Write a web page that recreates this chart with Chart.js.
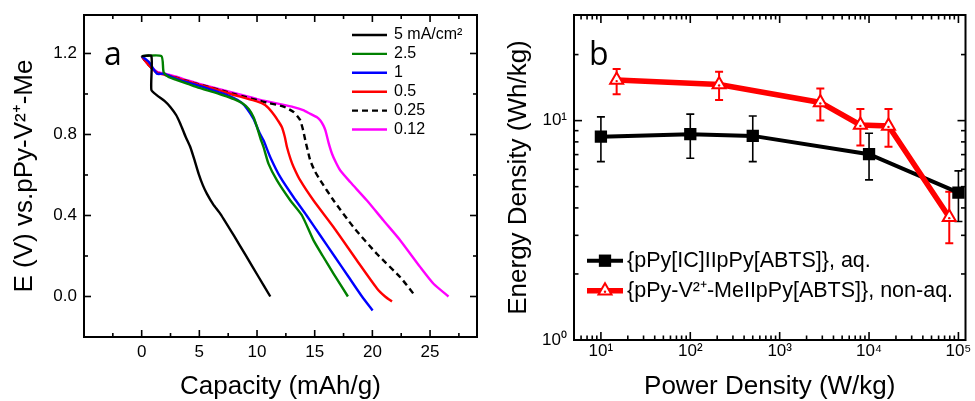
<!DOCTYPE html>
<html>
<head>
<meta charset="utf-8">
<script src="https://cdn.jsdelivr.net/npm/chart.js@4.4.1/dist/chart.umd.min.js"></script>
<style>
  body { margin: 0; background: #fff; }
  #wrap { position: relative; width: 975px; height: 401px; }
  canvas { position: absolute; top: 0; }
  #chartA { left: 0; }
  #chartB { left: 490px; }
</style>
</head>
<body>
<div id="wrap">
  <canvas id="chartA" width="490" height="401"></canvas>
  <canvas id="chartB" width="485" height="401"></canvas>
</div>
<script>
// ---- panel a: discharge curves ----
const rateLabels = ['5 mA/cm²', '2.5', '1', '0.5', '0.25', '0.12'];
const rateColors = ['#000000', '#008000', '#0000ff', '#ff0000', '#000000', '#ff00ff'];

const cap5 = [0, 0.84, 0.84, 1.33, 2.0, 2.5, 3.0, 3.35, 3.8, 4.22, 4.6, 4.94, 5.3, 5.66, 6.2, 6.82, 8.0, 9.0, 10.1, 11.15];
const volt5 = [1.187, 1.187, 1.02, 0.993, 0.965, 0.935, 0.895, 0.853, 0.79, 0.737, 0.67, 0.606, 0.55, 0.507, 0.455, 0.408, 0.3, 0.205, 0.1, 0.0];

const cap25 = [0, 1.71, 1.9, 2.3, 3, 4, 5, 6, 7, 8, 8.7, 9.3, 9.7, 10, 10.3, 10.57, 11.0, 11.73, 12.89, 13.9, 14.9, 15.7, 16.64, 17.88];
const volt25 = [1.187, 1.187, 1.108, 1.085, 1.07, 1.05, 1.03, 1.013, 0.995, 0.975, 0.955, 0.925, 0.885, 0.836, 0.78, 0.737, 0.655, 0.573, 0.474, 0.4, 0.277, 0.2, 0.112, 0.0];

const cap1 = [0, 0.6, 1.33, 1.9, 3, 4, 5, 6, 7, 8, 8.6, 9.1, 9.7, 10.2, 10.57, 11.15, 12.02, 13.17, 14.3, 15.5, 16.7, 17.9, 19.1, 20.02];
const volt1 = [1.187, 1.16, 1.1, 1.1, 1.075, 1.057, 1.04, 1.022, 1.003, 0.98, 0.96, 0.93, 0.877, 0.81, 0.77, 0.688, 0.589, 0.49, 0.4, 0.3, 0.2, 0.1, 0.0, -0.069];

const cap05 = [0, 0.5, 1.33, 2, 3, 4, 5, 6, 7, 8, 9, 10, 10.7, 11.15, 11.5, 11.8, 12.16, 12.4, 12.6, 12.9, 13.17, 13.75, 14.9, 16.64, 18.66, 20.4, 21.1, 21.7];
const volt05 = [1.187, 1.15, 1.105, 1.095, 1.08, 1.062, 1.045, 1.03, 1.013, 0.995, 0.98, 0.963, 0.945, 0.92, 0.895, 0.87, 0.836, 0.79, 0.737, 0.68, 0.64, 0.573, 0.474, 0.342, 0.178, 0.04, 0.0, -0.025];

const cap025 = [0, 0.5, 1.33, 2, 3, 4, 5, 6, 7, 8, 9, 10, 11, 12.3, 13.17, 13.5, 13.75, 14.0, 14.19, 14.4, 14.62, 15.0, 15.49, 16.64, 18.37, 20.4, 22.42, 23.57];
const volt025 = [1.187, 1.15, 1.105, 1.095, 1.08, 1.063, 1.047, 1.032, 1.016, 1.0, 0.985, 0.97, 0.955, 0.938, 0.911, 0.89, 0.87, 0.82, 0.77, 0.72, 0.671, 0.62, 0.573, 0.474, 0.342, 0.21, 0.095, 0.013];

const cap012 = [0, 0.5, 1.33, 2, 3, 4, 5, 6, 7, 8, 9, 10, 11, 12, 13.17, 14.0, 14.62, 15.2, 15.49, 15.75, 15.93, 16.2, 16.5, 16.85, 17.22, 18.08, 19.53, 20.97, 22.42, 24.15, 25.3, 26.6];
const volt012 = [1.187, 1.15, 1.11, 1.1, 1.085, 1.067, 1.05, 1.035, 1.02, 1.005, 0.99, 0.975, 0.962, 0.95, 0.935, 0.92, 0.902, 0.885, 0.869, 0.845, 0.82, 0.76, 0.705, 0.66, 0.622, 0.565, 0.474, 0.375, 0.277, 0.145, 0.063, 0.0];

const capTicks = [0, 5, 10, 15, 20, 25];
const capMinor = [-2.5, 2.5, 7.5, 12.5, 17.5, 22.5, 27.5];
const voltTicks = [0, 0.4, 0.8, 1.2];
const voltMinor = [0.2, 0.6, 1.0];

// ---- panel b: Ragone plot ----
const aqLabel = '{pPy[IC]IIpPy[ABTS]}, aq.';
const aqPower = [10, 100, 500, 10000, 100000];
const aqEnergy = [8.45, 8.67, 8.52, 7.03, 4.7];
const aqErrLow = [6.5, 6.74, 6.5, 5.37, 3.47];
const aqErrHigh = [10.4, 10.7, 10.5, 8.76, 5.9];

const naqLabel = '{pPy-V²⁺-MeIIpPy[ABTS]}, non-aq.';
const naqPower = [15, 210, 2850, 8000, 16500, 79000];
const naqEnergy = [15.3, 14.6, 12.1, 9.56, 9.46, 3.63];
const naqErrLow = [13.2, 12.4, 10.0, 7.7, 7.6, 2.76];
const naqErrHigh = [17.2, 16.7, 14.0, 11.3, 11.3, 4.74];

const powerTicks = [10, 100, 1000, 10000, 100000];
const powerTickLabels = ['10¹', '10²', '10³', '10⁴', '10⁵'];
const energyTicks = [1, 10];
const energyTickLabels = ['10⁰', '10¹'];

Chart.defaults.font.family = "'Liberation Sans', Arial, sans-serif";
Chart.defaults.color = '#000';

function logMinors(lo, hi) {
  const out = [];
  for (let d = 1; d <= hi; d *= 10) {
    for (let k = 2; k <= 9; k++) {
      const v = k * d;
      if (v > lo && v < hi) out.push(v);
    }
  }
  return out;
}

// box round the plot, ticks pointing in on all four sides
const frameTicks = {
  id: 'frameTicks',
  afterDraw(chart, args, o) {
    const { ctx, chartArea: a } = chart;
    const sx = chart.scales.x, sy = chart.scales.y;
    ctx.save();
    ctx.strokeStyle = '#000';
    ctx.lineWidth = 1.6;
    const seg = (x1, y1, x2, y2) => { ctx.beginPath(); ctx.moveTo(x1, y1); ctx.lineTo(x2, y2); ctx.stroke(); };
    const doX = (vals, len) => vals.forEach(v => {
      const p = sx.getPixelForValue(v);
      if (p < a.left + 1 || p > a.right - 1) return;
      seg(p, a.bottom, p, a.bottom - len);
      seg(p, a.top, p, a.top + len);
    });
    const doY = (vals, len) => vals.forEach(v => {
      const p = sy.getPixelForValue(v);
      if (p < a.top + 1 || p > a.bottom - 1) return;
      seg(a.left, p, a.left + len, p);
      seg(a.right, p, a.right - len, p);
    });
    doX(sx.ticks.map(t => t.value), o.major);
    doX(o.xMinor, o.minor);
    doY(sy.ticks.map(t => t.value), o.major);
    doY(o.yMinor, o.minor);
    ctx.lineWidth = 2;
    ctx.strokeRect(a.left, a.top, a.right - a.left, a.bottom - a.top);
    ctx.restore();
  }
};

const panelTag = {
  id: 'panelTag',
  afterDraw(chart, args, o) {
    const ctx = chart.ctx;
    ctx.save();
    ctx.font = '32px "Open Sans"';
    ctx.fillStyle = '#000';
    ctx.textBaseline = 'alphabetic';
    ctx.fillText(o.text, o.x, o.y);
    ctx.restore();
  }
};

const lineLegend = {
  id: 'lineLegend',
  afterDraw(chart, args, o) {
    const ctx = chart.ctx;
    ctx.save();
    ctx.font = o.font;
    ctx.textBaseline = 'middle';
    chart.data.datasets.forEach((ds, i) => {
      const y = o.y + i * o.gap;
      ctx.strokeStyle = ds.borderColor;
      ctx.lineWidth = ds.borderWidth;
      ctx.setLineDash(ds.borderDash || []);
      ctx.beginPath();
      ctx.moveTo(o.x, y);
      ctx.lineTo(o.x + o.len, y);
      ctx.stroke();
      ctx.setLineDash([]);
      if (o.markers) {
        ctx.fillStyle = ds.pointBackgroundColor;
        ctx.strokeStyle = ds.pointBorderColor;
        ctx.lineWidth = ds.pointBorderWidth;
        Chart.helpers.drawPoint(ctx, { pointStyle: ds.pointStyle, radius: ds.pointRadius, borderWidth: ds.pointBorderWidth, rotation: 0 }, o.x + o.len / 2, y);
        if (ds.centerDot) {
          ctx.fillStyle = ds.pointBorderColor;
          ctx.beginPath(); ctx.arc(o.x + o.len / 2, y + 1, 1.2, 0, Math.PI * 2); ctx.fill();
        }
      }
      ctx.fillStyle = '#000';
      ctx.fillText(ds.label, o.x + o.len + o.textGap, y);
    });
    ctx.restore();
  }
};

const errorBars = {
  id: 'errorBars',
  beforeDatasetsDraw(chart) {
    const { ctx } = chart;
    const sx = chart.scales.x, sy = chart.scales.y;
    chart.data.datasets.forEach(ds => {
      if (!ds.errLow) return;
      ctx.save();
      ctx.strokeStyle = ds.pointBorderColor;
      ctx.lineWidth = ds.errWidth;
      ds.data.forEach((p, i) => {
        const px = sx.getPixelForValue(p.x);
        const lo = sy.getPixelForValue(ds.errLow[i]);
        const hi = sy.getPixelForValue(ds.errHigh[i]);
        ctx.beginPath();
        ctx.moveTo(px, lo); ctx.lineTo(px, hi);
        ctx.moveTo(px - 4, lo); ctx.lineTo(px + 4, lo);
        ctx.moveTo(px - 4, hi); ctx.lineTo(px + 4, hi);
        ctx.stroke();
      });
      ctx.restore();
    });
  },
  afterDatasetsDraw(chart) {
    const ctx = chart.ctx;
    chart.data.datasets.forEach((ds, di) => {
      if (!ds.centerDot) return;
      const meta = chart.getDatasetMeta(di);
      ctx.save();
      ctx.fillStyle = ds.pointBorderColor;
      meta.data.forEach(el => {
        ctx.beginPath(); ctx.arc(el.x, el.y + 1, 1.2, 0, Math.PI * 2); ctx.fill();
      });
      ctx.restore();
    });
  }
};

const pts = (xs, ys) => xs.map((x, i) => ({ x: x, y: ys[i] }));

// ---- chart a ----
const curves = [[cap5, volt5], [cap25, volt25], [cap1, volt1], [cap05, volt05], [cap025, volt025], [cap012, volt012]];

new Chart(document.getElementById('chartA'), {
  type: 'line',
  data: {
    datasets: curves.map((c, i) => ({
      label: rateLabels[i],
      data: pts(c[0], c[1]),
      borderColor: rateColors[i],
      borderWidth: 2.4,
      borderDash: i === 4 ? [6, 4] : [],
      pointRadius: 0,
      tension: 0.2,
      fill: false
    }))
  },
  options: {
    responsive: false,
    animation: false,
    layout: { padding: { top: 15, right: 13, left: 0, bottom: 0 } },
    plugins: {
      legend: { display: false },
      tooltip: { enabled: false },
      lineLegend: { x: 352, y: 35, gap: 18.9, len: 35, textGap: 7, font: "16px 'Liberation Sans', Arial, sans-serif", markers: false },
      frameTicks: { major: 7, minor: 4, xMinor: capMinor, yMinor: voltMinor },
      panelTag: { text: 'a', x: 104, y: 65 }
    },
    scales: {
      x: {
        type: 'linear', min: -5, max: 29.07,
        grid: { display: false, drawTicks: false },
        border: { display: false },
        ticks: { font: { size: 17 }, padding: 5, maxRotation: 0, autoSkip: false },
        afterBuildTicks: s => { s.ticks = capTicks.map(v => ({ value: v })); },
        afterFit: s => { s.height = 64; s.paddingLeft = 0; s.paddingRight = 0; },
        title: { display: true, text: 'Capacity (mAh/g)', font: { size: 26, lineHeight: 1.1 }, padding: 0 }
      },
      y: {
        type: 'linear', min: -0.2, max: 1.39,
        grid: { display: false, drawTicks: false },
        border: { display: false },
        ticks: { font: { size: 17 }, padding: 7, autoSkip: false, callback: v => v.toFixed(1) },
        afterBuildTicks: s => { s.ticks = voltTicks.map(v => ({ value: v })); },
        afterFit: s => { s.width = 84; s.paddingTop = 0; s.paddingBottom = 0; },
        title: { display: true, text: 'E (V) vs.pPy-V²⁺-Me', font: { size: 26, lineHeight: 1.1 }, padding: { top: 11, bottom: 0 } }
      }
    }
  },
  plugins: [frameTicks, lineLegend, panelTag]
});

// ---- chart b ----
new Chart(document.getElementById('chartB'), {
  type: 'line',
  data: {
    datasets: [
      {
        label: aqLabel,
        data: pts(aqPower, aqEnergy),
        errLow: aqErrLow, errHigh: aqErrHigh, errWidth: 1.6,
        borderColor: '#000', borderWidth: 4,
        pointStyle: 'rect', pointRadius: 8.7, pointBorderWidth: 0,
        pointBackgroundColor: '#000', pointBorderColor: '#000',
        tension: 0, order: 1
      },
      {
        label: naqLabel,
        data: pts(naqPower, naqEnergy),
        errLow: naqErrLow, errHigh: naqErrHigh, errWidth: 2,
        borderColor: '#ff0000', borderWidth: 5.5,
        pointStyle: 'triangle', pointRadius: 7.5, pointBorderWidth: 2,
        pointBackgroundColor: '#fff', pointBorderColor: '#ff0000',
        centerDot: true,
        tension: 0, order: 0
      }
    ]
  },
  options: {
    responsive: false,
    animation: false,
    layout: { padding: { top: 15, right: 3, left: 0, bottom: 0 } },
    plugins: {
      legend: { display: false },
      tooltip: { enabled: false },
      lineLegend: { x: 97, y: 260.7, gap: 30, len: 36, textGap: 4, font: "21.5px 'Liberation Sans', Arial, sans-serif", markers: true },
      frameTicks: { major: 8, minor: 4.5, xMinor: logMinors(5, 120000), yMinor: logMinors(1, 30.3) },
      panelTag: { text: 'b', x: 99, y: 65 }
    },
    scales: {
      x: {
        type: 'logarithmic', min: 5, max: 120000,
        grid: { display: false, drawTicks: false },
        border: { display: false },
        ticks: { font: { size: 17 }, padding: 1, maxRotation: 0, autoSkip: false, callback: (v, i) => powerTickLabels[i] },
        afterBuildTicks: s => { s.ticks = powerTicks.map(v => ({ value: v })); },
        afterFit: s => { s.height = 61; s.paddingLeft = 0; s.paddingRight = 0; },
        title: { display: true, text: 'Power Density (W/kg)', font: { size: 26, lineHeight: 1.1 }, padding: 0 }
      },
      y: {
        type: 'logarithmic', min: 1, max: 30.3,
        grid: { display: false, drawTicks: false },
        border: { display: false },
        ticks: { font: { size: 17 }, padding: 7, autoSkip: false, callback: (v, i) => energyTickLabels[i] },
        afterBuildTicks: s => { s.ticks = energyTicks.map(v => ({ value: v })); },
        afterFit: s => { s.width = 84; s.paddingTop = 0; s.paddingBottom = 0; },
        title: { display: true, text: 'Energy Density (Wh/kg)', font: { size: 26, lineHeight: 1.1 }, padding: { top: 15, bottom: 0 } }
      }
    }
  },
  plugins: [errorBars, frameTicks, lineLegend, panelTag]
});
</script>
</body>
</html>
